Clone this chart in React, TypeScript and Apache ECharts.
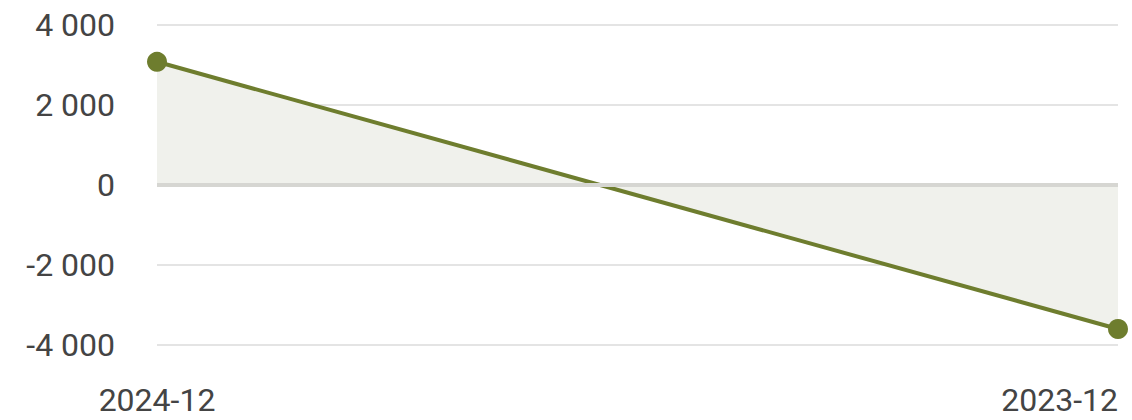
import React, { useEffect, useRef } from "react";
import * as echarts from "echarts";

const categories = ["2024-12", "2023-12"];
const values = [3080, -3600];
const yMin = -4000;
const yMax = 4000;
const yInterval = 2000;

function fmt(v: number): string {
  const s = Math.abs(v).toString().replace(/\B(?=(\d{3})+(?!\d))/g, " ");
  return (v < 0 ? "-" : "") + s;
}

export default function App() {
  const ref = useRef<HTMLDivElement>(null);
  useEffect(() => {
    if (!ref.current) return;
    const chart = echarts.init(ref.current, null, { renderer: "svg" });
    chart.setOption({
      animation: false,
      grid: { left: 157, right: 14, top: 25, bottom: 75, containLabel: false },
      xAxis: {
        type: "category",
        data: categories,
        boundaryGap: false,
        axisLine: { show: false },
        axisTick: { show: false },
        axisLabel: {
          fontFamily: "Roboto",
          fontSize: 32,
          lineHeight: 30,
          color: "#444",
          margin: 40,
          alignMinLabel: "center",
          alignMaxLabel: "right",
        },
        splitLine: { show: false },
      },
      yAxis: {
        type: "value",
        min: yMin,
        max: yMax,
        interval: yInterval,
        axisLine: { show: false },
        axisTick: { show: false },
        axisLabel: {
          fontFamily: "Roboto",
          fontSize: 32,
          color: "#444",
          margin: 42,
          formatter: (v: number) => fmt(v),
        },
        splitLine: { lineStyle: { color: "#e4e4e4", width: 2 } },
      },
      series: [
        {
          type: "line",
          data: values,
          symbol: "circle",
          symbolSize: 20,
          itemStyle: { color: "#6e7d2e" },
          lineStyle: { color: "#6e7d2e", width: 4 },
          areaStyle: { color: "#f0f1ec", opacity: 1 },
          markLine: {
            silent: true,
            symbol: "none",
            label: { show: false },
            lineStyle: { color: "#d6d6d2", width: 4, type: "solid" },
            data: [{ yAxis: 0 }],
          },
          z: 3,
        },
      ],
    });
    return () => chart.dispose();
  }, []);
  return (
    <div
      ref={ref}
      style={{ position: "fixed", left: 0, top: 0, width: 1132, height: 420, background: "#fff" }}
    />
  );
}
